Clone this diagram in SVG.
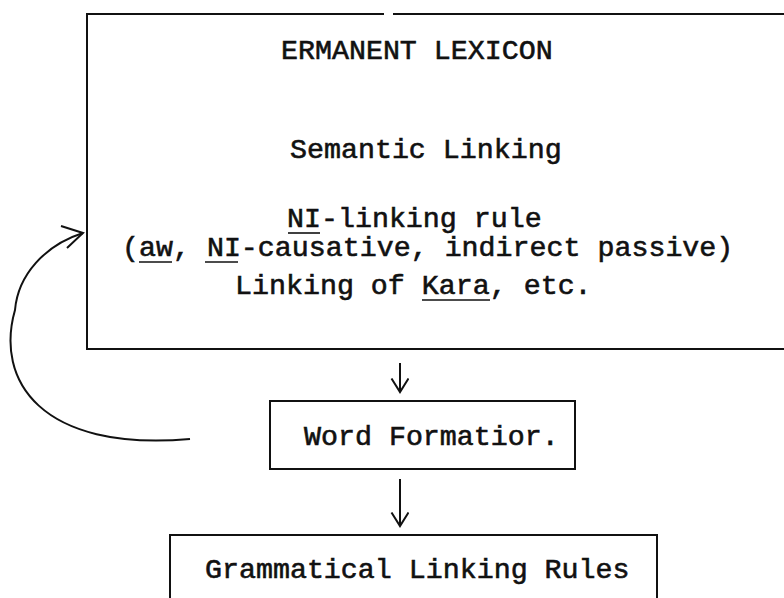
<svg xmlns="http://www.w3.org/2000/svg" width="784" height="598" viewBox="0 0 784 598">
  <defs>
    <style>
      .t { font-family: "Liberation Mono", "DejaVu Sans Mono", monospace; font-size: 28.3px; fill: #111; stroke: #111; stroke-width: 0.6px; }
      .box { fill: none; stroke: #111; stroke-width: 2; }
      .ul { stroke: #111; stroke-width: 1.6; }
      .conn { fill: none; stroke: #111; stroke-width: 2; }
    </style>
    <marker id="v" markerWidth="20" markerHeight="20" refX="14" refY="9" orient="auto" markerUnits="userSpaceOnUse">
      <path d="M0.5 0.5 L14 9 L0.5 17.5" fill="none" stroke="#111" stroke-width="2"/>
    </marker>
  </defs>
  <rect width="784" height="598" fill="#fff"/>

  <g id="permanent-lexicon">
    <path class="box" d="M87 14 H384 M393 14 H790 M87 13 V350 M86 349 H790"/>
    <text class="t" x="281" y="59">ERMANENT LEXICON</text>
    <text class="t" x="290" y="158">Semantic Linking</text>
    <text class="t" x="287" y="227">NI-linking rule</text>
    <line class="ul" x1="288" y1="233" x2="320" y2="233"/>
    <text class="t" x="122" y="256">(aw, NI-causative, indirect passive)</text>
    <line class="ul" x1="139" y1="262" x2="172" y2="262"/>
    <line class="ul" x1="205" y1="262" x2="238" y2="262"/>
    <text class="t" x="235" y="294">Linking of Kara, etc.</text>
    <line class="ul" x1="422" y1="300" x2="490" y2="300"/>
  </g>

  <g id="word-formation">
    <rect class="box" x="270" y="401" width="305" height="68"/>
    <text class="t" x="304" y="445">Word Formatior.</text>
  </g>

  <g id="grammatical-linking-rules">
    <path class="box" d="M170 610 V535 H657 V610"/>
    <text class="t" x="205" y="578">Grammatical Linking Rules</text>
  </g>

  <g id="connectors">
    <line class="conn" x1="400" y1="363" x2="400" y2="392" marker-end="url(#v)"/>
    <line class="conn" x1="400" y1="479" x2="400" y2="526" marker-end="url(#v)"/>
    <path class="conn" d="M190 439 C40 452, -5 380, 15 310 C18 275, 45 245, 83 233"/>
    <path class="conn" stroke-width="2.5" d="M61 226 L83 233 L67 248"/>
  </g>
</svg>
